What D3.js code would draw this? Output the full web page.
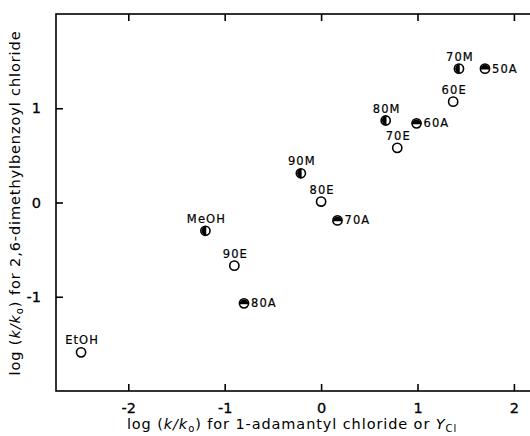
<html>
<head>
<style>
  body { margin: 0; background: white; font-family: "DejaVu Sans", sans-serif; }
  svg { display: block; }
</style>
<script src="https://cdn.jsdelivr.net/npm/d3@7"></script>
</head>
<body>
<svg id="main"></svg>
<script>
// solvent points: x = log(k/k0) 1-adamantyl chloride, y = log(k/k0) 2,6-dimethylbenzoyl chloride
const names = ["EtOH", "MeOH", "90E", "80A", "90M", "80E", "70A", "80M", "70E", "60A", "60E", "70M", "50A"]
const xVals = [-2.49, -1.20, -0.90, -0.80, -0.21, 0.00, 0.17, 0.67, 0.79, 0.99, 1.37, 1.43, 1.70]
const yVals = [-1.59, -0.30, -0.67, -1.07, 0.31, 0.01, -0.19, 0.87, 0.58, 0.84, 1.07, 1.42, 1.42]
// marker kind: E = open, M = left half filled, A = top half filled
const kinds = ["E", "M", "E", "A", "M", "E", "A", "M", "E", "A", "E", "M", "A"]
const xTicks = [-2, -1, 0, 1, 2]
const yTicks = [-1, 0, 1]

const width = 530, height = 436
const svg = d3.select("#main").attr("width", width).attr("height", height)

const x = d3.scaleLinear().domain([-2.75, 2.25]).range([56, 538])
const y = d3.scaleLinear().domain([-2, 2]).range([391, 14])

const data = names.map((n, i) => ({name: n, x: xVals[i], y: yVals[i], kind: kinds[i]}))

// frame
svg.append("rect")
  .attr("x", x.range()[0]).attr("y", y.range()[1])
  .attr("width", x.range()[1] - x.range()[0])
  .attr("height", y.range()[0] - y.range()[1])
  .attr("fill", "none").attr("stroke", "black").attr("stroke-width", 1.6)

// axes, ticks inward
const tk = 7
svg.append("g").attr("transform", `translate(0,${y.range()[0]})`)
  .call(d3.axisBottom(x).tickValues(xTicks).tickSizeInner(-tk).tickSizeOuter(0).tickPadding(tk + 5).tickFormat(d => d < 0 ? "-" + Math.abs(d) : d))
  .call(g => g.select(".domain").remove())
svg.append("g").attr("transform", `translate(0,${y.range()[1]})`)
  .call(d3.axisTop(x).tickValues(xTicks).tickSizeInner(-tk).tickSizeOuter(0).tickFormat(""))
  .call(g => g.select(".domain").remove())
svg.append("g").attr("transform", `translate(${x.range()[0]},0)`)
  .call(d3.axisLeft(y).tickValues(yTicks).tickSizeInner(-tk).tickSizeOuter(0).tickPadding(tk + 8).tickFormat(d => d < 0 ? "-" + Math.abs(d) : d))
  .call(g => g.select(".domain").remove())
svg.append("g").attr("transform", `translate(${x.range()[1]},0)`)
  .call(d3.axisRight(y).tickValues(yTicks).tickSizeInner(-tk).tickSizeOuter(0).tickFormat(""))
  .call(g => g.select(".domain").remove())

svg.selectAll(".tick line").attr("stroke", "black").attr("stroke-width", 1.6)
svg.selectAll(".tick text").attr("font-family", "DejaVu Sans, sans-serif").attr("font-size", 14.5)
  .attr("fill", "black").attr("stroke", "black").attr("stroke-width", 0.3)

// markers
const r = 4.6
const pts = svg.append("g").selectAll("g").data(data).join("g")
  .attr("transform", d => `translate(${x(d.x)},${y(d.y)})`)

pts.append("circle").attr("r", r).attr("fill", "white").attr("stroke", "black").attr("stroke-width", 1.6)
pts.filter(d => d.kind === "M").append("path")
  .attr("d", `M0.8,${-r}A${r},${r} 0 0,0 0.8,${r}Z`).attr("fill", "black")
pts.filter(d => d.kind === "A").append("path")
  .attr("d", `M${-r},0.8A${r},${r} 0 0,1 ${r},0.8Z`).attr("fill", "black")

// labels
pts.append("text")
  .attr("font-family", "DejaVu Sans, sans-serif")
  .attr("font-size", 11.5)
  .attr("letter-spacing", 1.1)
  .attr("stroke", "black").attr("stroke-width", 0.2)
  .attr("text-anchor", d => d.kind === "A" ? "start" : "middle")
  .attr("x", d => d.kind === "A" ? 7 : 1)
  .attr("y", d => d.kind === "A" ? 4 : -8)
  .text(d => d.name)

// axis titles
const xt = svg.append("text")
  .attr("x", 292).attr("y", 429)
  .attr("text-anchor", "middle")
  .attr("font-family", "DejaVu Sans, sans-serif").attr("font-size", 14.5)
  .attr("letter-spacing", 0.9)
xt.append("tspan").text("log (")
xt.append("tspan").attr("font-style", "italic").text("k/k")
xt.append("tspan").attr("font-size", 10).attr("dy", 3).text("o")
xt.append("tspan").attr("dy", -3).text(") for 1-adamantyl chloride or ")
xt.append("tspan").attr("font-style", "italic").text("Y")
xt.append("tspan").attr("font-size", 10).attr("dy", 3).text("Cl")

const yt = svg.append("text")
  .attr("transform", "translate(20,203) rotate(-90)")
  .attr("text-anchor", "middle")
  .attr("font-family", "DejaVu Sans, sans-serif").attr("font-size", 14.5)
  .attr("letter-spacing", 0.9)
yt.append("tspan").text("log (")
yt.append("tspan").attr("font-style", "italic").text("k/k")
yt.append("tspan").attr("font-size", 10).attr("dy", 3).text("o")
yt.append("tspan").attr("dy", -3).text(") for 2,6-dimethylbenzoyl chloride")
</script>
</body>
</html>
